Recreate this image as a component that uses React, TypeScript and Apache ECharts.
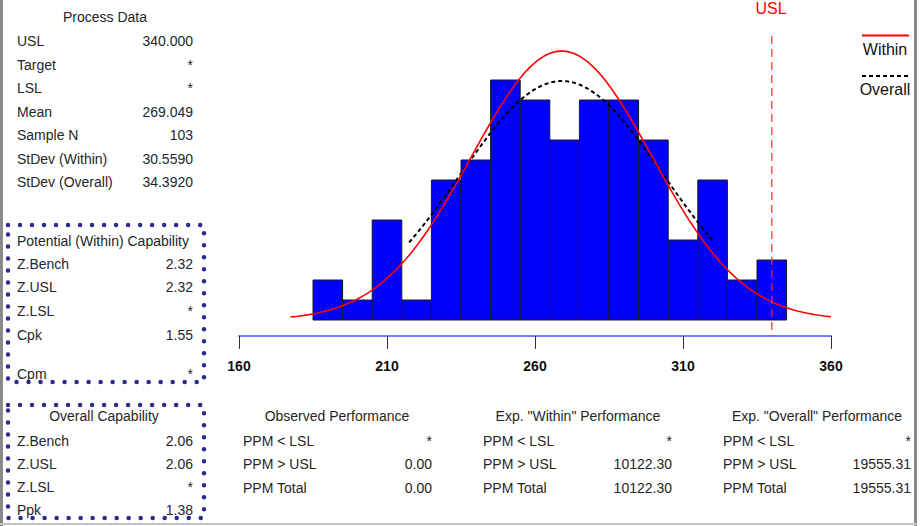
import React, { useEffect, useRef } from "react";
import * as echarts from "echarts";

// ---- data ----
const binStart = 185;
const binWidth = 10;
const binCounts = [2, 1, 5, 1, 7, 8, 12, 11, 9, 11, 11, 9, 4, 7, 2, 3];
const xTicks = [160, 210, 260, 310, 360];
const usl = 340;
const mean = 269.049;
const sampleN = 103;
const stdevWithin = 30.559;
const stdevOverall = 34.392;
const yMax = 14.2;

const processLabels = ["USL", "Target", "LSL", "Mean", "Sample N", "StDev (Within)", "StDev (Overall)"];
const processValues = ["340.000", "*", "*", "269.049", "103", "30.5590", "34.3920"];
const potentialLabels = ["Z.Bench", "Z.USL", "Z.LSL", "Cpk", "Cpm"];
const potentialValues = ["2.32", "2.32", "*", "1.55", "*"];
const overallLabels = ["Z.Bench", "Z.USL", "Z.LSL", "Ppk"];
const overallValues = ["2.06", "2.06", "*", "1.38"];
const perfTitles = ["Observed Performance", 'Exp. "Within" Performance', 'Exp. "Overall" Performance'];
const perfLabels = ["PPM < LSL", "PPM > USL", "PPM Total"];
const observedPPM = ["*", "0.00", "0.00"];
const withinPPM = ["*", "10122.30", "10122.30"];
const overallPPM = ["*", "19555.31", "19555.31"];

const FONT = "'Liberation Sans', Arial, sans-serif";
const TXT = "#262626";

function normalCurve(sd: number, from: number, to: number, steps: number) {
  const pts: number[][] = [];
  const k = (sampleN * binWidth) / (sd * Math.sqrt(2 * Math.PI));
  for (let i = 0; i <= steps; i++) {
    const x = from + ((to - from) * i) / steps;
    const z = (x - mean) / sd;
    pts.push([x, k * Math.exp(-0.5 * z * z)]);
  }
  return pts;
}

function txt(text: string, x: number, y: number, align = "left", size = 14, fill = TXT, weight = "normal") {
  return {
    type: "text",
    x,
    y,
    silent: true,
    style: {
      text,
      fill,
      fontSize: size,
      fontFamily: FONT,
      fontWeight: weight,
      align,
      verticalAlign: "middle",
      textAlign: align,
      textVerticalAlign: "middle",
    },
  };
}

export default function App() {
  const ref = useRef<HTMLDivElement>(null);
  useEffect(() => {
    if (!ref.current) return;
    const chart = echarts.init(ref.current, undefined, { renderer: "svg" });

    const graphics: any[] = [];
    // borders
    graphics.push({ type: "rect", shape: { x: 0, y: 0, width: 3, height: 526 }, style: { fill: "#8a8a8a" } });
    graphics.push({ type: "rect", shape: { x: 914, y: 0, width: 3, height: 526 }, style: { fill: "#8a8a8a" } });
    graphics.push({ type: "rect", shape: { x: 0, y: 523, width: 917, height: 2 }, style: { fill: "#c4c4c4" } });

    // process data
    graphics.push(txt("Process Data", 105, 17, "center"));
    processLabels.forEach((l, i) => {
      const y = 41 + i * 23.5;
      graphics.push(txt(l, 17, y));
      graphics.push(txt(processValues[i], 193, y, "right"));
    });

    // dotted boxes
    const dotted = (x: number, y: number, w: number, h: number) => ({
      type: "rect",
      shape: { x, y, width: w, height: h },
      style: { fill: "none", stroke: "#2b2b8c", lineWidth: 4.5, lineDash: [0.01, 12], lineCap: "round" },
    });
    graphics.push(dotted(8, 225, 196, 157));
    graphics.push(dotted(8, 405, 196, 113));

    graphics.push(txt("Potential (Within) Capability", 17, 241));
    const potY = [263.5, 287, 310.5, 334.5, 374];
    potentialLabels.forEach((l, i) => {
      graphics.push(txt(l, 17, potY[i]));
      graphics.push(txt(potentialValues[i], 193, potY[i], "right"));
    });

    graphics.push(txt("Overall Capability", 104, 416, "center"));
    overallLabels.forEach((l, i) => {
      const y = 440.5 + i * 23.3;
      graphics.push(txt(l, 17, y));
      graphics.push(txt(overallValues[i], 193, y, "right"));
    });

    // performance tables
    const colLeft = [243, 483, 723];
    const colRight = [432, 672, 911];
    const colCenter = [337, 578, 817];
    const colVals = [observedPPM, withinPPM, overallPPM];
    perfTitles.forEach((t, c) => {
      graphics.push(txt(t, colCenter[c], 416, "center"));
      perfLabels.forEach((l, i) => {
        const y = 440.5 + i * 23.5;
        graphics.push(txt(l, colLeft[c], y));
        graphics.push(txt(colVals[c][i], colRight[c], y, "right"));
      });
    });

    // legend
    graphics.push({ type: "line", shape: { x1: 862, y1: 35.5, x2: 909, y2: 35.5 }, style: { stroke: "#ff0000", lineWidth: 2 } });
    graphics.push(txt("Within", 885, 49, "center", 16, "#111"));
    graphics.push({ type: "line", shape: { x1: 862, y1: 76, x2: 909, y2: 76 }, style: { stroke: "#000", lineWidth: 2, lineDash: [4, 3] } });
    graphics.push(txt("Overall", 885, 89, "center", 16, "#111"));

    // USL label
    graphics.push(txt("USL", 771, 8, "center", 16, "#ff0000"));

    const option: any = {
      animation: false,
      backgroundColor: "#ffffff",
      grid: { left: 239, right: 89, top: 36, bottom: 206, containLabel: false },
      xAxis: {
        type: "value",
        min: xTicks[0],
        max: xTicks[xTicks.length - 1],
        interval: 50,
        offset: 16,
        axisLine: { show: true, onZero: false, lineStyle: { color: "#7a7aff", width: 2 } },
        axisTick: { show: true, inside: false, length: 13, lineStyle: { color: "#333", width: 1 } },
        axisLabel: { color: "#111", fontSize: 14, fontWeight: "bold", fontFamily: FONT, margin: 23 },
        splitLine: { show: false },
      },
      yAxis: { type: "value", min: 0, max: yMax, show: false },
      series: [
        {
          type: "custom",
          name: "Histogram",
          renderItem: (params: any, api: any) => {
            const s = api.value(0);
            const e = api.value(1);
            const c = api.value(2);
            const p0 = api.coord([s, c]);
            const p1 = api.coord([e, 0]);
            return {
              type: "rect",
              shape: { x: p0[0], y: p0[1], width: p1[0] - p0[0], height: p1[1] - p0[1] },
              style: { fill: "#0000ff", stroke: "#1a1a1a", lineWidth: 1 },
            };
          },
          encode: { x: [0, 1], y: 2 },
          data: binCounts.map((c, i) => [binStart + i * binWidth, binStart + (i + 1) * binWidth, c]),
          z: 2,
        },
        {
          type: "line",
          name: "Within",
          data: normalCurve(stdevWithin, mean - 3 * stdevWithin, xTicks[xTicks.length - 1], 160),
          showSymbol: false,
          symbol: "none",
          lineStyle: { color: "#ff0000", width: 1.6 },
          z: 4,
        },
        {
          type: "line",
          name: "Overall",
          data: normalCurve(stdevOverall, mean - 1.5 * stdevOverall, mean + 1.5 * stdevOverall, 120),
          showSymbol: false,
          symbol: "none",
          lineStyle: { color: "#000000", width: 2, type: [4, 3] },
          z: 3,
        },
        {
          type: "custom",
          name: "USL",
          renderItem: (params: any, api: any) => {
            const top = api.coord([api.value(0), yMax]);
            const bot = api.coord([api.value(0), 0]);
            return {
              type: "line",
              shape: { x1: top[0], y1: top[1], x2: bot[0], y2: bot[1] + 16 },
              style: { stroke: "#ff2a2a", lineWidth: 1.2, lineDash: [8, 5] },
            };
          },
          encode: { x: 0, y: 1 },
          data: [[usl, 0]],
          clip: false,
          z: 5,
        },
      ],
      graphic: { elements: graphics },
    };
    chart.setOption(option);
    return () => chart.dispose();
  }, []);

  return (
    <div
      ref={ref}
      style={{ position: "fixed", left: 0, top: 0, width: 920, height: 526, background: "#fff" }}
    />
  );
}
